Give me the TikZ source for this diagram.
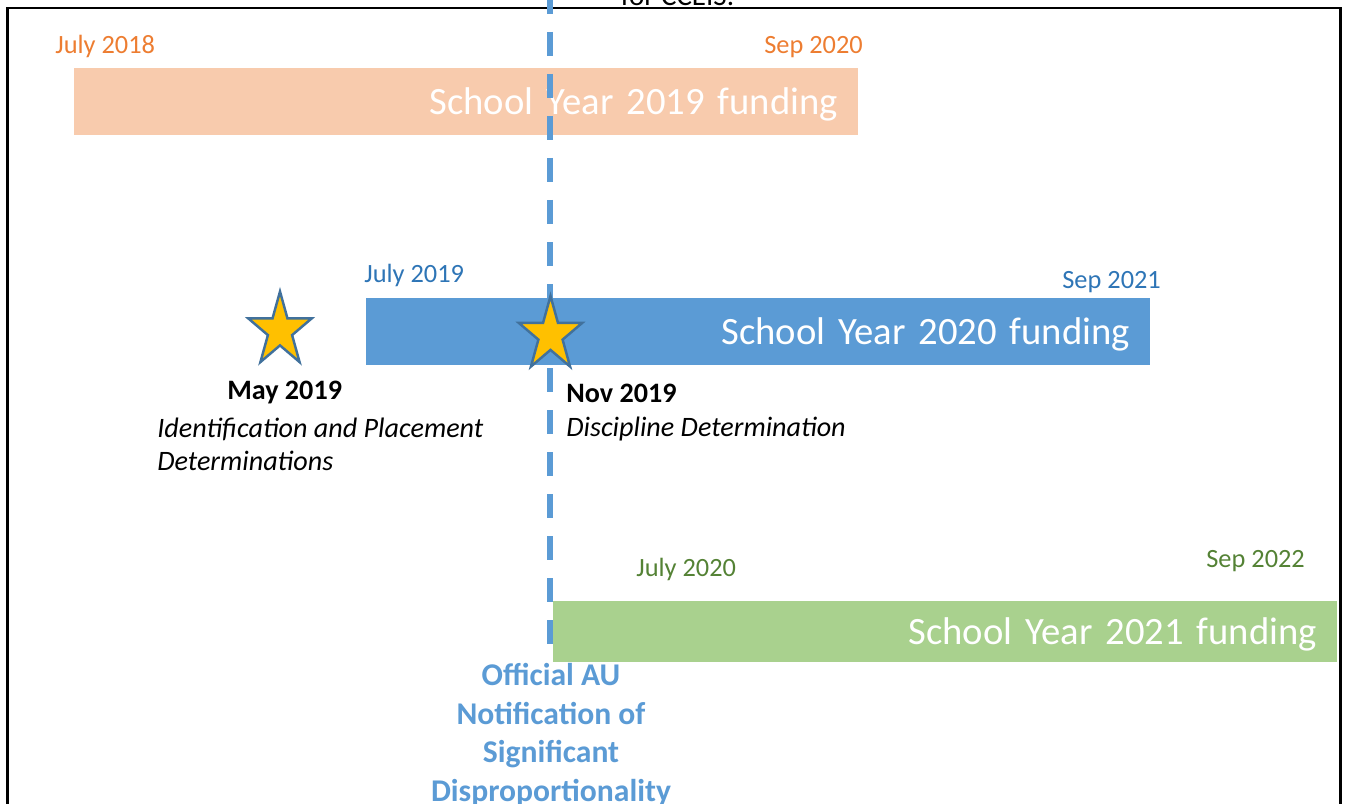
\documentclass[tikz,border=0pt]{standalone}
\usepackage{fontspec}
\setmainfont{Carlito}
\usetikzlibrary{shapes.geometric}

\definecolor{orangeFill}{HTML}{F8CBAD}
\definecolor{orangeText}{HTML}{ED7D31}
\definecolor{blueFill}{HTML}{5B9BD5}
\definecolor{blueText}{HTML}{2E75B6}
\definecolor{greenFill}{HTML}{A9D18E}
\definecolor{greenText}{HTML}{548235}
\definecolor{starFill}{HTML}{FFC000}
\definecolor{starLine}{HTML}{41719C}

\begin{document}
\begin{tikzpicture}[
        fundbar/.style={rectangle, minimum height=1.34cm, text width=14.88cm, text depth=0pt, inner xsep=0.4cm, inner ysep=0pt, align=right, text=white, font=\fontsize{22}{27}\selectfont},
        datelabel/.style={anchor=base west, inner sep=0pt, font=\fontsize{15}{18}\selectfont},
        milestone/.style={star, star points=5, star point ratio=2.618, minimum size=1.48cm, inner sep=0pt, xscale=0.9, yscale=1.054, fill=starFill, draw=starLine, line width=1.4pt},
        eventhead/.style={anchor=base west, inner sep=0pt, font=\fontsize{16}{19}\selectfont\bfseries},
        eventtext/.style={anchor=base west, inner sep=0pt, align=left, font=\fontsize{16}{18.7}\selectfont\itshape}
    ]
        \useasboundingbox (0, 0) rectangle (26.96, -16.08);

        % Frame of the slide and the text above it
        \draw[line width=1.7pt] (0.15, -0.16) rectangle (26.81, -17);
        \node[anchor=base, inner sep=0pt, font=\fontsize{16.5}{20}\selectfont] (cceis) at (13.55, -0.12) {for CCEIS.};

        % Draw a bar for each school year of funding
        \node[fundbar, fill=orangeFill] (sy19) at (9.32, -2.03) {School Year 2019 funding};
        \node[fundbar, fill=blueFill] (sy20) at (15.16, -6.63) {School Year 2020 funding};
        \node[fundbar, fill=greenFill, minimum height=1.22cm] (sy21) at (18.9, -12.63) {School Year 2021 funding};

        % Start and end dates of each bar
        \node[datelabel, text=orangeText] (start19) at (1.10, -1.08) {July 2018};
        \node[datelabel, text=orangeText] (end19) at (15.28, -1.08) {Sep 2020};
        \node[datelabel, text=blueText] (start20) at (7.28, -5.64) {July 2019};
        \node[datelabel, text=blueText] (end20) at (21.24, -5.76) {Sep 2021};
        \node[datelabel, text=greenText] (start21) at (12.72, -11.53) {July 2020};
        \node[datelabel, text=greenText] (end21) at (24.12, -11.34) {Sep 2022};

        % Dashed line for the notification
        \coordinate (cutTop) at (11.0, 0.2);
        \coordinate (cutBottom) at (11.0, -12.88);
        \draw[blueFill, line width=3.1pt, dash pattern=on 0.48cm off 0.36cm] (cutTop) -- (cutBottom);
        \node[anchor=base, inner sep=0pt, align=center, text=blueFill, font=\fontsize{18}{21.9}\selectfont\bfseries] (notice) at (11.02, -16.02) {Official AU\\Notification of\\Significant\\Disproportionality};

        % Stars for the determinations
        \node[milestone] (may) at (5.6, -6.61) {};
        \node[milestone] (nov) at (11.01, -6.70) {};

        \node[eventhead] (mayDate) at (4.54, -7.98) {May 2019};
        \node[eventtext] (mayText) at (3.14, -9.40) {Identification and Placement\\Determinations};
        \node[eventhead] (novDate) at (11.32, -8.04) {Nov 2019};
        \node[eventtext] (novText) at (11.32, -8.72) {Discipline Determination};

    \end{tikzpicture}
\end{document}
